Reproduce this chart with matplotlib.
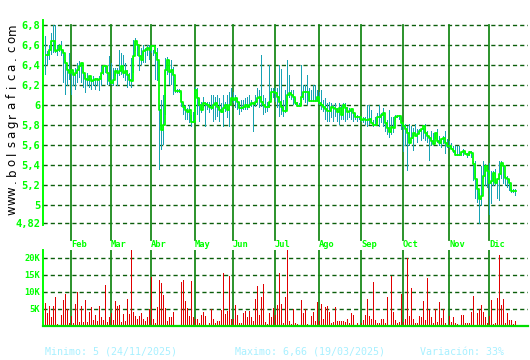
import numpy as np
import matplotlib
matplotlib.use("Agg")
import matplotlib.pyplot as plt

# daily closes / highs / lows (trading days, Jan -> Dec 2025)
closes = [
    6.50, 6.50, 6.55, 6.64, 6.64, 6.54, 6.55, 6.59, 6.55, 6.52,
    6.42, 6.35, 6.32, 6.35, 6.30, 6.32, 6.35, 6.39, 6.42, 6.32,
    6.26, 6.25, 6.29, 6.24, 6.25, 6.26, 6.25, 6.26, 6.32, 6.39,
    6.39, 6.32, 6.24, 6.22, 6.25, 6.34, 6.32, 6.34, 6.39, 6.32,
    6.34, 6.30, 6.25, 6.24, 6.49, 6.64, 6.60, 6.49, 6.45, 6.54,
    6.55, 6.57, 6.55, 6.59, 6.59, 6.52, 6.45, 5.95, 5.75, 5.80,
    6.35, 6.45, 6.33, 6.35, 6.30, 6.14, 6.14, 6.14, 6.03, 5.98,
    5.95, 5.93, 5.95, 5.83, 5.83, 6.15, 6.07, 6.00, 5.95, 6.02,
    6.01, 6.00, 5.98, 5.97, 6.00, 6.02, 5.98, 5.95, 5.93, 5.97,
    6.00, 5.95, 6.00, 6.07, 6.05, 6.07, 6.03, 5.97, 5.97, 5.98,
    6.00, 5.98, 6.00, 6.02, 6.01, 6.03, 6.07, 6.08, 6.03, 6.00,
    5.98, 5.98, 6.03, 6.13, 6.13, 6.12, 6.08, 6.03, 5.98, 5.94,
    5.94, 6.10, 6.12, 6.10, 6.08, 6.02, 5.99, 5.99, 6.08, 6.13,
    6.13, 6.13, 6.04, 6.04, 6.04, 6.04, 6.08, 6.02, 6.00, 5.98,
    5.96, 5.94, 5.94, 5.98, 5.97, 5.96, 5.93, 5.97, 5.90, 6.00,
    5.97, 5.93, 5.94, 5.96, 5.92, 5.88, 5.88, 5.88, 5.85, 5.86,
    5.85, 5.85, 5.86, 5.82, 5.80, 5.80, 5.88, 5.88, 5.90, 5.92,
    5.82, 5.77, 5.73, 5.78, 5.77, 5.88, 5.89, 5.89, 5.82, 5.79,
    5.76, 5.72, 5.62, 5.67, 5.72, 5.69, 5.71, 5.74, 5.76, 5.79,
    5.72, 5.69, 5.67, 5.64, 5.61, 5.72, 5.64, 5.62, 5.66, 5.67,
    5.62, 5.59, 5.59, 5.56, 5.54, 5.50, 5.50, 5.50, 5.53, 5.54,
    5.51, 5.50, 5.53, 5.52, 5.41, 5.26, 5.16, 5.06, 5.09, 5.29,
    5.39, 5.34, 5.22, 5.24, 5.32, 5.22, 5.26, 5.31, 5.42, 5.39,
    5.27, 5.26, 5.22, 5.14, 5.14, 5.14,
]

highs = [
    6.69, 6.54, 6.60, 6.72, 6.80, 6.80, 6.60, 6.61, 6.64, 6.55,
    6.45, 6.37, 6.52, 6.35, 6.35, 6.37, 6.42, 6.44, 6.42, 6.34,
    6.30, 6.32, 6.29, 6.27, 6.29, 6.27, 6.27, 6.29, 6.39, 6.40,
    6.40, 6.39, 6.49, 6.42, 6.37, 6.37, 6.37, 6.55, 6.52, 6.50,
    6.42, 6.35, 6.32, 6.47, 6.65, 6.67, 6.61, 6.49, 6.57, 6.60,
    6.57, 6.60, 6.60, 6.60, 6.55, 6.55, 6.57, 5.99, 6.05, 6.10,
    6.47, 6.48, 6.45, 6.45, 6.38, 6.18, 6.16, 6.16, 6.13, 6.02,
    6.00, 5.97, 6.00, 5.90, 5.93, 6.18, 6.17, 6.07, 6.03, 6.08,
    6.03, 6.03, 6.03, 6.10, 6.10, 6.08, 6.10, 6.07, 6.02, 6.10,
    6.03, 6.10, 6.13, 6.17, 6.13, 6.10, 6.07, 6.03, 6.05, 6.05,
    6.07, 6.08, 6.10, 6.05, 6.03, 6.10, 6.17, 6.15, 6.50, 6.10,
    6.07, 6.03, 6.40, 6.17, 6.17, 6.17, 6.17, 6.40, 6.36, 6.05,
    6.15, 6.45, 6.30, 6.15, 6.15, 6.07, 6.03, 6.02, 6.40, 6.20,
    6.20, 6.30, 6.17, 6.15, 6.20, 6.20, 6.15, 6.13, 6.15, 6.05,
    6.07, 6.02, 6.03, 6.02, 6.00, 6.02, 5.97, 6.02, 6.00, 6.02,
    6.02, 5.98, 5.97, 5.95, 5.92, 5.92, 5.90, 5.88, 5.88, 5.88,
    5.88, 6.00, 6.00, 5.95, 5.85, 5.88, 5.92, 6.00, 5.92, 5.97,
    5.82, 5.85, 5.95, 5.88, 5.88, 5.90, 5.90, 5.90, 5.88, 5.80,
    5.81, 5.79, 5.81, 5.79, 5.77, 5.81, 5.76, 5.76, 5.76, 5.77,
    5.81, 5.74, 5.69, 5.74, 5.72, 5.72, 5.76, 5.69, 5.66, 5.69,
    5.74, 5.66, 5.64, 5.62, 5.59, 5.59, 5.59, 5.59, 5.52, 5.56,
    5.54, 5.52, 5.54, 5.54, 5.44, 5.44, 5.26, 5.12, 5.39, 5.44,
    5.41, 5.39, 5.42, 5.34, 5.34, 5.36, 5.26, 5.44, 5.44, 5.39,
    5.29, 5.29, 5.26, 5.16, 5.16, 5.16,
]

lows = [
    6.30, 6.40, 6.45, 6.50, 6.52, 6.52, 6.49, 6.53, 6.49, 6.22,
    6.10, 6.19, 6.25, 6.10, 6.19, 6.15, 6.22, 6.27, 6.22, 6.17,
    6.12, 6.19, 6.17, 6.15, 6.19, 6.15, 6.19, 6.14, 6.19, 6.30,
    6.32, 6.20, 6.20, 6.20, 6.19, 6.29, 6.19, 6.29, 6.30, 6.27,
    6.24, 6.17, 6.19, 6.17, 6.32, 6.54, 6.49, 6.34, 6.40, 6.42,
    6.42, 6.49, 6.45, 6.52, 6.49, 6.25, 6.24, 5.35, 5.55, 5.60,
    5.90, 6.30, 6.20, 6.20, 6.10, 6.12, 6.12, 6.12, 5.98, 5.90,
    5.85, 5.85, 5.82, 5.78, 5.82, 5.85, 5.90, 5.83, 5.92, 5.97,
    5.78, 5.95, 5.92, 5.95, 5.83, 5.85, 5.88, 5.83, 5.92, 5.78,
    5.93, 5.87, 5.78, 6.03, 6.02, 5.97, 5.95, 5.90, 5.93, 5.95,
    5.95, 5.95, 5.97, 5.98, 5.73, 5.98, 6.00, 5.97, 5.98, 5.90,
    5.92, 5.93, 5.97, 6.05, 6.07, 6.03, 5.97, 5.88, 5.90, 5.88,
    5.92, 6.02, 6.07, 6.05, 6.00, 6.00, 5.98, 5.98, 6.00, 6.05,
    6.02, 6.00, 6.03, 6.03, 6.03, 6.03, 6.03, 6.00, 5.95, 5.93,
    5.85, 5.83, 5.83, 5.87, 5.83, 5.88, 5.83, 5.80, 5.85, 5.85,
    5.83, 5.85, 5.87, 5.85, 5.83, 5.85, 5.83, 5.85, 5.83, 5.82,
    5.80, 5.78, 5.80, 5.82, 5.78, 5.80, 5.82, 5.78, 5.82, 5.78,
    5.73, 5.70, 5.67, 5.70, 5.72, 5.85, 5.87, 5.85, 5.75, 5.53,
    5.59, 5.34, 5.59, 5.66, 5.54, 5.69, 5.62, 5.71, 5.64, 5.66,
    5.64, 5.62, 5.44, 5.59, 5.60, 5.66, 5.62, 5.59, 5.57, 5.61,
    5.51, 5.57, 5.57, 5.56, 5.52, 5.49, 5.49, 5.49, 5.49, 5.49,
    5.51, 5.47, 5.49, 5.47, 5.24, 5.06, 5.02, 4.81, 4.99, 5.26,
    5.19, 5.17, 4.90, 5.01, 5.19, 5.20, 5.06, 5.04, 5.26, 5.21,
    5.19, 5.17, 5.14, 5.12, 5.12, 5.09,
]

# volume in thousands
volumes = [
    6.9, 3.9, 6.0, 2.5, 6.0, 8.6, 0.6, 0.3, 3.2, 7.6,
    9.4, 5.0, 1.0, 3.0, 1.0, 6.5, 10.1, 1.2, 6.0, 1.3,
    7.6, 1.3, 4.2, 5.7, 1.8, 3.2, 1.5, 5.9, 2.7, 1.8,
    12.1, 1.3, 2.5, 3.7, 1.8, 7.4, 5.9, 6.2, 1.3, 3.5,
    1.6, 7.9, 3.5, 22.4, 4.2, 2.9, 2.1, 2.9, 3.9, 2.2,
    1.5, 2.7, 5.0, 14.5, 2.1, 1.0, 5.7, 13.5, 12.7, 9.1,
    5.2, 1.6, 2.5, 2.5, 4.2, 0.3, 0.3, 0.3, 13.0, 13.5,
    7.4, 5.2, 2.9, 13.2, 2.7, 2.1, 2.1, 1.0, 3.2, 4.1,
    2.9, 0.3, 1.0, 5.0, 2.1, 0.8, 1.6, 1.6, 4.7, 15.5,
    3.5, 4.4, 14.7, 2.1, 2.0, 6.2, 3.2, 1.0, 1.0, 3.9,
    4.4, 2.5, 4.4, 2.5, 1.6, 7.9, 11.8, 3.2, 8.6, 12.4,
    1.3, 0.6, 3.9, 2.5, 5.2, 3.2, 6.2, 15.5, 6.5, 1.0,
    8.4, 22.4, 1.5, 0.6, 5.1, 0.8, 0.6, 0.3, 7.6, 3.9,
    5.0, 0.6, 0.3, 2.9, 4.2, 1.5, 7.0, 1.5, 6.5, 2.1,
    5.5, 5.9, 4.2, 0.8, 1.3, 5.5, 1.5, 1.5, 1.5, 1.5,
    1.3, 2.1, 0.8, 3.9, 3.2, 0.3, 1.0, 0.3, 1.0, 1.8,
    3.2, 7.9, 2.9, 2.0, 12.8, 1.8, 0.8, 1.0, 2.1, 2.1,
    1.0, 8.4, 0.3, 14.7, 4.2, 1.8, 0.8, 1.3, 9.4, 1.3,
    2.1, 19.9, 2.9, 11.3, 2.1, 0.8, 0.8, 2.9, 2.7, 7.4,
    1.8, 14.0, 4.7, 2.7, 0.8, 5.0, 1.3, 7.1, 2.3, 5.0,
    0.8, 0.3, 2.9, 1.3, 2.5, 0.8, 0.5, 0.3, 3.2, 3.2,
    0.8, 0.8, 1.0, 4.2, 8.8, 0.3, 3.9, 5.0, 6.2, 4.2,
    2.7, 1.0, 2.9, 7.6, 0.5, 0.8, 8.3, 20.9, 6.2, 7.9,
    0.8, 3.9, 1.8, 1.8, 0.6, 1.5,
]

months = ["Feb", "Mar", "Abr", "May", "Jun", "Jul", "Ago", "Sep", "Oct", "Nov", "Dic"]
month_pos = [13.5, 33.5, 53.5, 75.5, 94.5, 115.5, 137.5, 158.5, 179.5, 202.5, 222.5]

price_ticks = [6.8, 6.6, 6.4, 6.2, 6.0, 5.8, 5.6, 5.4, 5.2, 5.0, 4.82]
price_labels = ["6,8", "6,6", "6,4", "6,2", "6", "5,8", "5,6", "5,4", "5,2", "5", "4,82"]
vol_ticks = [5, 10, 15, 20]
vol_labels = ["5K", "10K", "15K", "20K"]

footer = ["Minimo: 5 (24/11/2025)", "Maximo: 6,66 (19/03/2025)", "Variación: 33%"]

BRIGHT = "#00ff00"
MONTHC = "#1a8a1a"
DASHC = "#0b5e0b"
TEAL = "#17a2b4"
MONO = "DejaVu Sans Mono"

W, H = 530, 360
fig = plt.figure(figsize=(W / 100, H / 100), dpi=100)
fig.patch.set_facecolor("white")

idx = np.arange(len(closes))
x = idx + 0.5
xlim = (-0.5, 242)

# ---------------- price panel ----------------
ax = fig.add_axes([43 / W, 1 - 225 / H, 485 / W, 205 / H])
ax.set_xlim(*xlim)
ax.set_ylim(4.80, 6.85)
for s in ["top", "right", "bottom"]:
    ax.spines[s].set_visible(False)
ax.spines["left"].set_color(BRIGHT)
ax.spines["left"].set_linewidth(1.4)

for p in price_ticks:
    ax.axhline(p, color=DASHC, lw=1.0, ls=(0, (3, 2.2)), zorder=1)
for m in month_pos:
    ax.axvline(m, ymin=-0.075, ymax=0.976, color=MONTHC, lw=1.3, clip_on=False, zorder=1)

# high-low range bars, one pixel wide
ax.bar(x, np.array(highs) - np.array(lows), bottom=lows, width=0.5, align="edge",
       color=TEAL, linewidth=0, zorder=2)
ax.step(x + 0.25, closes, where="mid", color=BRIGHT, lw=1.3, zorder=3)

ax.set_xticks([])
ax.set_yticks(price_ticks)
ax.set_yticklabels(price_labels, family=MONO, weight="bold", fontsize=7.5, color=BRIGHT)
ax.tick_params(axis="y", length=0, pad=2)

for m, lab in zip(month_pos, months):
    ax.text(m, -0.093, lab, transform=ax.get_xaxis_transform(), ha="left", va="center",
            family=MONO, weight="bold", fontsize=6.3, color=BRIGHT)

# ---------------- volume panel ----------------
av = fig.add_axes([43 / W, 1 - 326 / H, 485 / W, 76 / H])
av.set_xlim(*xlim)
av.set_ylim(0, 22.35)
for s in ["top", "right"]:
    av.spines[s].set_visible(False)
av.spines["left"].set_color(BRIGHT)
av.spines["left"].set_linewidth(1.4)
av.spines["bottom"].set_color("#00dd00")
av.spines["bottom"].set_linewidth(1.6)

for v in vol_ticks:
    av.axhline(v, color=DASHC, lw=1.0, ls=(0, (3, 2.2)), zorder=1)
for m in month_pos:
    av.axvline(m, color=MONTHC, lw=1.3, zorder=1)

av.bar(x, volumes, width=0.5, align="edge", color="#e00000", linewidth=0, zorder=2)

av.set_xticks([])
av.set_yticks(vol_ticks)
av.set_yticklabels(vol_labels, family=MONO, weight="bold", fontsize=6.3, color=BRIGHT)
av.tick_params(axis="y", length=0, pad=2)

# ---------------- side / footer text ----------------
site = "www.bolsagrafica.com"
for k, ch in enumerate(site):
    fig.text(12 / W, 1 - (210 - k * 9.5) / H, ch, rotation=90, ha="center", va="center",
             fontsize=8.5, color="black", family="DejaVu Sans")

for xp, t in zip([45, 235, 420], footer):
    fig.text(xp / W, 1 - 352 / H, t, ha="left", va="center",
             family=MONO, fontsize=7.2, color="#a8f0ff")

fig.savefig("out.png", dpi=100)
